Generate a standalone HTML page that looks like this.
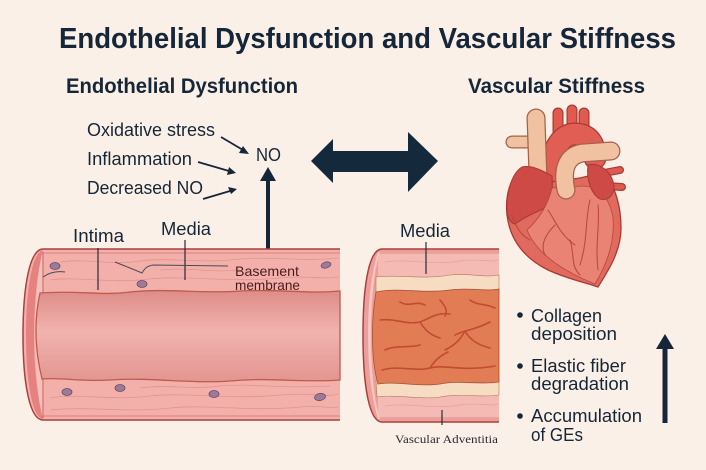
<!DOCTYPE html>
<html><head><meta charset="utf-8"><style>
html,body{margin:0;padding:0;background:#fbf0e7;}
svg{display:block;}
text{font-family:"Liberation Sans",sans-serif;fill:#152638;}
</style></head><body>
<svg width="706" height="470" viewBox="0 0 706 470" xmlns="http://www.w3.org/2000/svg">
<defs>
<linearGradient id="lum" x1="0" y1="0" x2="0" y2="1">
<stop offset="0" stop-color="#de8c88"/><stop offset="0.45" stop-color="#f1b3ae"/><stop offset="1" stop-color="#e39591"/>
</linearGradient>
</defs>
<rect width="706" height="470" fill="#fbf0e7"/>

<!-- Titles -->
<text x="59" y="48" font-size="29" font-weight="bold" textLength="617" lengthAdjust="spacingAndGlyphs">Endothelial Dysfunction and Vascular Stiffness</text>
<text x="66" y="93" font-size="21" font-weight="bold" textLength="232" lengthAdjust="spacingAndGlyphs">Endothelial Dysfunction</text>
<text x="468" y="93" font-size="21" font-weight="bold" textLength="177" lengthAdjust="spacingAndGlyphs">Vascular Stiffness</text>

<!-- Left labels -->
<text x="87" y="136" font-size="18" textLength="128" lengthAdjust="spacingAndGlyphs">Oxidative stress</text>
<text x="87" y="165" font-size="18" textLength="105" lengthAdjust="spacingAndGlyphs">Inflammation</text>
<text x="87" y="194" font-size="18" textLength="116" lengthAdjust="spacingAndGlyphs">Decreased NO</text>
<text x="256" y="161" font-size="18" textLength="25" lengthAdjust="spacingAndGlyphs">NO</text>

<!-- small arrows -->
<g stroke="#152638" stroke-width="1.8" fill="none">
<line x1="221" y1="137" x2="243" y2="150"/>
<line x1="198" y1="162" x2="229" y2="171"/>
<line x1="203" y1="199" x2="230" y2="191"/>
</g>
<g fill="#152638">
<polygon points="249,154 239,153 243,146"/>
<polygon points="236,173 227,175 229,167"/>
<polygon points="237,189 231,194 228,187"/>
</g>

<!-- vertical arrow left -->
<line x1="268" y1="249" x2="268" y2="176" stroke="#152638" stroke-width="4"/>
<polygon points="260,181 268,167 276,181" fill="#152638"/>

<!-- double arrow -->
<polygon points="311,161 333,139 333,151 408,151 408,132 438,161 408,192 408,172 333,172 333,183" fill="#142a3c"/>

<!-- LEFT VESSEL -->
<path d="M43,249 L340,249 L340,420 L43,420 C30,420 23,385 23,335 C23,285 30,249 43,249 Z" fill="#f3b0ab"/>
<path d="M340,249 L43,249 C30,249 23,285 23,335 C23,385 30,420 43,420 L340,420" fill="none" stroke="#a8403e" stroke-width="1.5"/>
<line x1="43" y1="253" x2="340" y2="253" stroke="#e08a86" stroke-width="1.2"/>
<line x1="43" y1="416" x2="340" y2="416" stroke="#e08a86" stroke-width="1.2"/>
<path d="M43,250 C32,252 26,290 26,335 C26,380 32,418 43,419 C38,400 34,370 34,335 C34,300 38,268 43,250 Z" fill="#e5827f"/>
<path d="M43,252 C38,270 35,300 35,335 C35,370 38,400 43,418 L43,252 Z" fill="#f4c0ba"/>
<line x1="43" y1="252" x2="43" y2="418" stroke="#c86460" stroke-width="1"/>
<!-- fibers -->
<g stroke="#e2938d" stroke-width="0.8" fill="none">
<path d="M60,262 C90,258 110,266 140,261 C170,257 200,264 240,259 C270,256 300,262 338,258"/>
<path d="M50,280 C80,276 110,284 150,279 C190,275 230,283 280,278 C310,275 325,280 338,277"/>
<path d="M160,270 C190,267 210,273 240,270"/>
<path d="M50,398 C80,393 110,401 150,396 C190,392 230,400 280,395 C310,392 325,398 338,394"/>
<path d="M50,410 C90,406 130,413 170,408 C210,404 250,412 300,407 C320,405 330,409 338,407"/>
<path d="M140,388 C170,384 190,390 220,386 C250,383 280,389 330,386"/>
</g>
<!-- lumen -->
<path d="M40,293 C80,290 100,296 130,292 C170,288 200,294 240,291 C280,289 310,294 340,291 L340,380 C300,383 270,377 230,381 C190,384 150,377 110,380 C80,382 60,377 42,379 C35,350 34,320 40,293 Z" fill="url(#lum)" stroke="#bf5a4e" stroke-width="1.3"/>
<!-- cells -->
<g fill="#9b7b98" stroke="#6d4c66" stroke-width="0.8">
<ellipse cx="55" cy="266" rx="5" ry="3.5"/>
<ellipse cx="142" cy="284" rx="5" ry="3.5"/>
<ellipse cx="326" cy="265" rx="5" ry="3" transform="rotate(-15 326 265)"/>
<ellipse cx="67" cy="392" rx="5" ry="3.5"/>
<ellipse cx="120" cy="388" rx="5" ry="3.5"/>
<ellipse cx="214" cy="394" rx="5" ry="3.5"/>
<ellipse cx="320" cy="397" rx="5.5" ry="3.5" transform="rotate(-10 320 397)"/>
</g>
<!-- labels on left vessel -->
<text x="73" y="242" font-size="18" textLength="51" lengthAdjust="spacingAndGlyphs">Intima</text>
<text x="161" y="235" font-size="18" textLength="50" lengthAdjust="spacingAndGlyphs">Media</text>
<line x1="98" y1="248" x2="98" y2="290" stroke="#2a2a33" stroke-width="1.2"/>
<line x1="185" y1="240" x2="185" y2="280" stroke="#2a2a33" stroke-width="1.2"/>
<path d="M115,262 C125,266 135,270 142,273 C145,268 147,266 153,265 L228,266" fill="none" stroke="#4a4a55" stroke-width="1"/>
<path d="M43,277 C50,272 58,271 65,272" fill="none" stroke="#4a4a55" stroke-width="1"/>
<text x="235" y="276" font-size="14" style="fill:#4a1c1c" textLength="64" lengthAdjust="spacingAndGlyphs">Basement</text>
<text x="235" y="290" font-size="14" style="fill:#4a1c1c" textLength="65" lengthAdjust="spacingAndGlyphs">membrane</text>

<!-- RIGHT VESSEL -->
<path d="M382,249 L499,249 L499,422 L382,422 C370,422 363,390 363,335 C363,280 370,249 382,249 Z" fill="#ee9e9a"/>
<rect x="378" y="252" width="121" height="27" fill="#f4bab4"/>
<rect x="378" y="394" width="121" height="25" fill="#f4bab4"/>
<path d="M499,249 L382,249 C370,249 363,280 363,335 C363,390 370,422 382,422 L499,422" fill="none" stroke="#a8403e" stroke-width="1.5"/>
<line x1="378" y1="253" x2="499" y2="253" stroke="#e08a86" stroke-width="1"/>
<line x1="378" y1="418" x2="499" y2="418" stroke="#e08a86" stroke-width="1"/>
<path d="M380,252 C374,270 371,300 371,335 C371,370 374,400 380,419 L378,419 C372,400 368,370 368,335 C368,300 372,270 378,252 Z" fill="#f6c6c0"/>
<g stroke="#e6a09a" stroke-width="0.7" fill="none">
<path d="M385,262 C410,258 430,266 460,261 C480,258 490,263 498,260"/>
<path d="M385,406 C410,402 430,410 460,405 C480,402 490,407 498,404"/>
</g>
<!-- cream bands -->
<path d="M376,277 C400,274 420,280 450,275 C470,273 485,278 499,275 L499,294 L376,296 Z" fill="#f6dcc2" stroke="#b8745a" stroke-width="0.6"/>
<path d="M376,380 L499,379 L499,395 C480,398 460,393 440,397 C420,400 395,394 377,397 Z" fill="#f6dcc2" stroke="#b8745a" stroke-width="0.6"/>
<!-- orange core -->
<path d="M376,292 C400,287 420,294 450,290 C470,287 485,292 499,289 L499,382 C480,385 460,380 440,384 C420,387 395,381 378,384 C371,360 371,320 376,292 Z" fill="#e27c55" stroke="#a85036" stroke-width="0.8"/>
<g stroke="#c14b33" stroke-width="1.6" fill="none" stroke-linecap="round">
<path d="M380,320 C395,318 405,325 420,322 C430,318 438,312 450,314"/>
<path d="M420,322 C425,330 430,335 440,338"/>
<path d="M455,335 C465,330 475,330 490,322"/>
<path d="M465,331 C470,340 478,345 490,348"/>
<path d="M445,350 C455,345 460,340 465,331"/>
<path d="M385,350 C395,345 410,348 420,345"/>
<path d="M382,370 C400,365 415,372 430,368 C445,364 460,372 495,366"/>
<path d="M430,368 C435,360 440,356 448,352"/>
<path d="M400,302 C410,308 415,300 425,305"/>
<path d="M470,300 C478,306 485,303 495,308"/>
<path d="M440,300 C445,306 448,310 445,316"/>
</g>
<text x="400" y="237" font-size="18" textLength="50" lengthAdjust="spacingAndGlyphs">Media</text>
<line x1="426" y1="242" x2="426" y2="274" stroke="#2a2a33" stroke-width="1.2"/>
<line x1="442" y1="410" x2="442" y2="425" stroke="#2a2a33" stroke-width="1.2"/>
<text x="395" y="443" font-size="12" style="font-family:'Liberation Serif',serif;fill:#2a2a33" textLength="103" lengthAdjust="spacingAndGlyphs">Vascular Adventitia</text>

<!-- HEART -->
<g stroke-linecap="round" stroke-linejoin="round">
<!-- aorta branches -->
<g stroke="#a83a32" stroke-width="11"><line x1="558" y1="132" x2="558" y2="113"/><line x1="572" y1="130" x2="572" y2="110"/><line x1="584" y1="133" x2="584" y2="113"/></g>
<g stroke="#e05a50" stroke-width="8.5"><line x1="558" y1="132" x2="558" y2="113"/><line x1="572" y1="130" x2="572" y2="110"/><line x1="584" y1="133" x2="584" y2="113"/></g>
<!-- aorta arch -->
<path d="M551,192 C547,160 557,134 575,134 C589,134 595,144 595,158" fill="none" stroke="#a83a32" stroke-width="23"/>
<path d="M551,192 C547,160 557,134 575,134 C589,134 595,144 595,158" fill="none" stroke="#e15e54" stroke-width="20.5"/>
<!-- SVC -->
<line x1="512" y1="142" x2="530" y2="142" stroke="#a8604a" stroke-width="13"/>
<line x1="512" y1="142" x2="530" y2="142" stroke="#f0c2a2" stroke-width="10.5"/>
<path d="M536,118 L538,175" stroke="#a8604a" stroke-width="19" fill="none"/>
<path d="M536,118 L538,175" stroke="#f0c2a2" stroke-width="16.5" fill="none"/>
<!-- body -->
<path d="M522,168 C510,178 505,195 507,215 C510,240 524,258 548,270 C570,280 588,283 598,287 C610,268 621,250 621,228 C621,205 615,188 605,172 L580,178 L550,182 Z" fill="#e06a5e" stroke="#a83a32" stroke-width="1.3"/>
<!-- left atrium -->
<path d="M522,167 C512,173 506,192 507,212 C508,218 511,224 515,224 C526,216 540,210 553,205 L552,176 C540,169 530,165 522,167 Z" fill="#cd4a46" stroke="#a83a32" stroke-width="1"/>
<!-- front ventricle -->
<path d="M552,188 C548,205 540,218 527,230 C536,252 560,270 595,284 C607,264 615,242 613,218 C610,198 598,186 582,186 Z" fill="#e98373" stroke="#b8453c" stroke-width="0.8"/>
<g stroke="#b8453c" stroke-width="1" fill="none">
<path d="M548,210 C555,220 560,235 575,245"/>
<path d="M555,225 C545,235 540,245 545,255"/>
<path d="M590,200 C585,220 588,240 580,265"/>
<path d="M598,205 C600,225 595,245 598,270"/>
<path d="M570,240 C575,255 570,265 580,275"/>
<path d="M530,240 C520,235 515,225 512,215"/>
</g>
<!-- right vessels -->
<line x1="604" y1="173" x2="620" y2="170" stroke="#a83a32" stroke-width="8"/>
<line x1="604" y1="173" x2="620" y2="170" stroke="#dd5a52" stroke-width="5.5"/>
<line x1="606" y1="186" x2="622" y2="187" stroke="#a83a32" stroke-width="8"/>
<line x1="606" y1="186" x2="622" y2="187" stroke="#dd5a52" stroke-width="5.5"/>
<!-- right atrium -->
<path d="M588,165 C600,162 612,172 614,186 C614,196 608,201 600,199 C592,195 586,180 588,165 Z" fill="#cd4a46" stroke="#a83a32" stroke-width="1"/>
<!-- pulmonary artery -->
<path d="M566,190 C562,170 566,156 582,153 L611,151" fill="none" stroke="#a8604a" stroke-width="19"/>
<path d="M566,190 C562,170 566,156 582,153 L611,151" fill="none" stroke="#f0c2a2" stroke-width="16.5"/>
</g>

<!-- bullets -->
<g fill="#152638">
<circle cx="520" cy="315" r="2.8"/><circle cx="520" cy="366" r="2.8"/><circle cx="520" cy="416" r="2.8"/>
</g>
<text x="531" y="322" font-size="18" textLength="71" lengthAdjust="spacingAndGlyphs">Collagen</text>
<text x="531" y="340" font-size="18" textLength="86" lengthAdjust="spacingAndGlyphs">deposition</text>
<text x="531" y="372" font-size="18" textLength="95" lengthAdjust="spacingAndGlyphs">Elastic fiber</text>
<text x="531" y="390" font-size="18" textLength="98" lengthAdjust="spacingAndGlyphs">degradation</text>
<text x="531" y="422" font-size="18" textLength="111" lengthAdjust="spacingAndGlyphs">Accumulation</text>
<text x="531" y="441" font-size="18" textLength="52" lengthAdjust="spacingAndGlyphs">of GEs</text>

<!-- right up arrow -->
<line x1="665" y1="423" x2="665" y2="344" stroke="#152638" stroke-width="5"/>
<polygon points="656,349 665,334 674,349" fill="#152638"/>
</svg>
</body></html>
